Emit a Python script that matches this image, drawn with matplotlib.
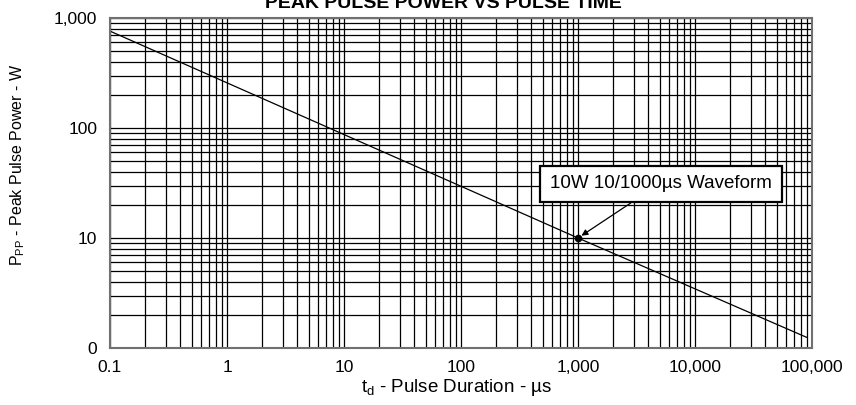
import numpy as np
import matplotlib.pyplot as plt
from matplotlib.ticker import FixedLocator, FixedFormatter, LogLocator, NullFormatter

plt.rcParams['font.family'] = ['Liberation Sans', 'DejaVu Sans']
plt.rcParams['mathtext.default'] = 'regular'

# curve (straight line on log-log)
pulse_time = [0.1, 1000, 90000]
peak_power = [760, 10, 1.25]

# marked point
mark_time = 1000
mark_power = 10
mark_label = "10W 10/1000µs Waveform"

x_ticks = [0.1, 1, 10, 100, 1000, 10000, 100000]
x_labels = ["0.1", "1", "10", "100", "1,000", "10,000", "100,000"]
y_ticks = [1, 10, 100, 1000]
y_labels = ["0", "10", "100", "1,000"]

fig = plt.figure(figsize=(8.56, 4.05), dpi=100)
ax = fig.add_axes([110/856, 1 - 348/405, 702/856, 330/405])

ax.set_xscale("log")
ax.set_yscale("log")
ax.set_xlim(0.1, 100000)
ax.set_ylim(1, 1000)

ax.plot(pulse_time, peak_power, color="black", lw=0.9)
ax.plot([mark_time], [mark_power], "o", color="black", ms=4.5)

ax.xaxis.set_major_locator(FixedLocator(x_ticks))
ax.xaxis.set_major_formatter(FixedFormatter(x_labels))
ax.yaxis.set_major_locator(FixedLocator(y_ticks))
ax.yaxis.set_major_formatter(FixedFormatter(y_labels))
ax.xaxis.set_minor_locator(LogLocator(base=10, subs=np.arange(2, 10), numticks=20))
ax.yaxis.set_minor_locator(LogLocator(base=10, subs=np.arange(2, 10), numticks=20))
ax.xaxis.set_minor_formatter(NullFormatter())
ax.yaxis.set_minor_formatter(NullFormatter())

ax.grid(True, which="both", color="black", lw=0.9)
ax.tick_params(which="both", length=0, labelsize=12.5, pad=9)
for s in ax.spines.values():
    s.set_color("#707070")
    s.set_linewidth(1.5)

# box text, arrow points at the marked dot
ax.annotate(mark_label, xy=(mark_time, mark_power), xytext=(661, 405 - 184),
            textcoords="figure pixels", ha="center", va="center", fontsize=13.5,
            bbox=dict(boxstyle="square,pad=0.52", fc="white", ec="black", lw=1.6),
            arrowprops=dict(arrowstyle="-|>", color="black", lw=0.9, relpos=(0.435, 0),
                            mutation_scale=9, shrinkA=0, shrinkB=3))

ax.set_xlabel("$\\mathregular{t_d}$ - Pulse Duration - µs", fontsize=13.5)
ax.set_ylabel("$\\mathregular{P_{PP}}$ - Peak Pulse Power - W", fontsize=11.5)
ax.xaxis.set_label_coords(0.494, -0.088)
ax.yaxis.set_label_coords(-0.118, 0.555)

fig.text(443/856, 1 - 7.5/405, "PEAK PULSE POWER VS PULSE TIME", ha="center",
         va="baseline", fontsize=14, fontweight="bold")

fig.savefig("out.png", dpi=100)
